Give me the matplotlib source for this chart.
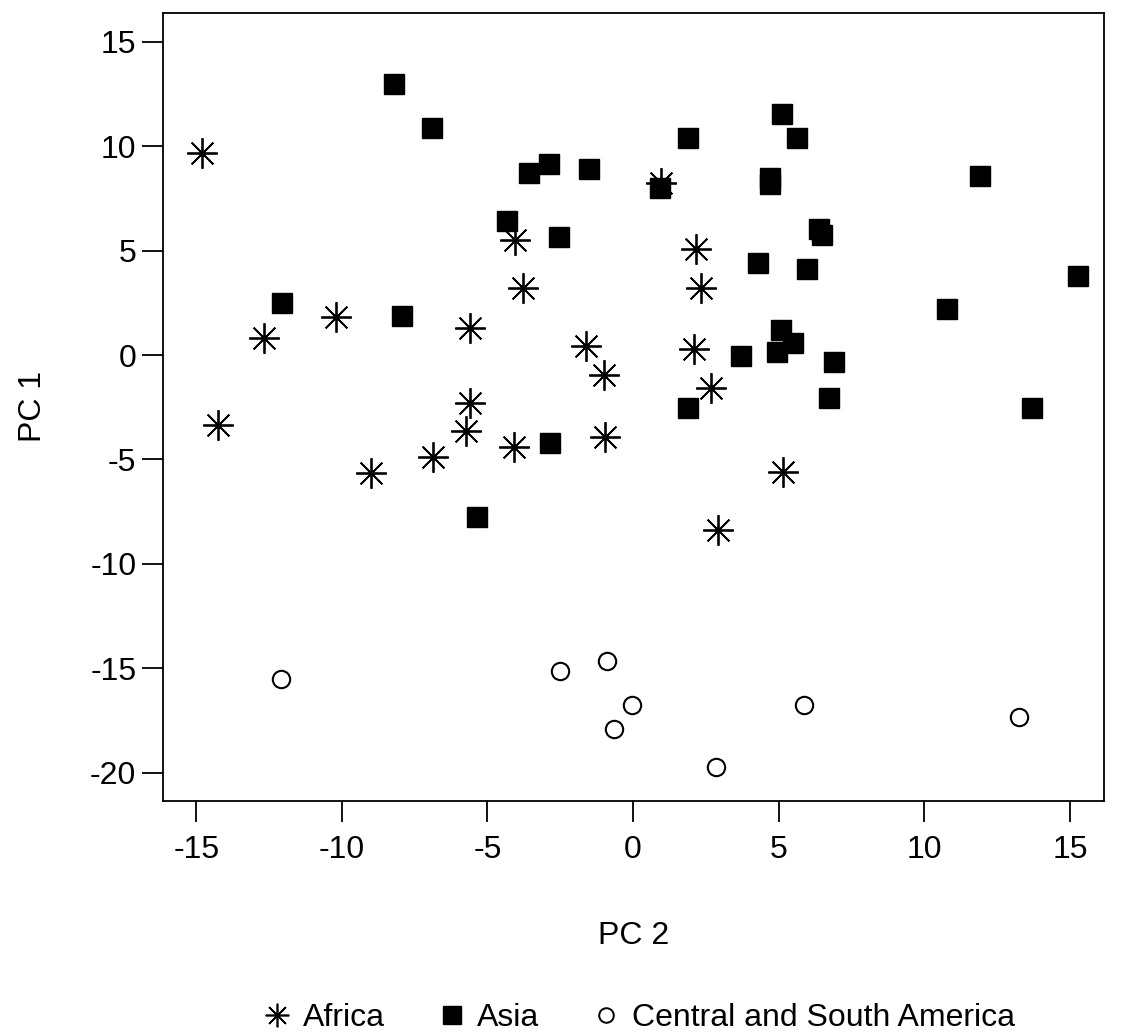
import matplotlib
matplotlib.use("Agg")
import matplotlib.pyplot as plt

# PCA scores (PC 2 on x, PC 1 on y)
africa_pc2 = [-14.79, -14.24, -12.66, -10.19, -8.99, -6.86, -5.73, -5.59, -5.59, -4.05, -3.77,
              -4.08, -1.61, -0.99, -0.96, 0.96, 2.17, 2.34, 2.10, 2.68, 2.92, 5.14]
africa_pc1 = [9.67, -3.35, 0.81, 1.82, -5.65, -4.88, -3.64, -2.30, 1.29, 5.50, 3.21,
              -4.40, 0.43, -0.96, -3.92, 8.23, 5.07, 3.21, 0.29, -1.58, -8.37, -5.60]

asia_pc2 = [-8.20, -6.89, -12.04, -7.92, -3.57, -2.88, -1.51, -4.32, -2.54, 0.93, 5.12,
            1.89, 5.63, 4.70, 4.70, 6.39, 6.49, 4.29, 5.97, 11.91, 15.28, 10.78,
            5.09, 5.50, 4.95, 3.71, 6.90, 6.73, 1.89, 13.70, -2.84, -5.35]
asia_pc1 = [12.97, 10.86, 2.49, 1.87, 8.71, 9.14, 8.90, 6.41, 5.65, 7.99, 11.53,
            10.38, 10.38, 8.47, 8.18, 6.03, 5.74, 4.40, 4.11, 8.56, 3.78, 2.20,
            1.20, 0.57, 0.14, -0.05, -0.33, -2.06, -2.54, -2.54, -4.21, -7.75]

america_pc2 = [-12.09, -2.50, -0.91, -0.02, -0.64, 2.84, 5.86, 13.25]
america_pc1 = [-15.50, -15.11, -14.63, -16.75, -17.89, -19.70, -16.75, -17.31]

x_ticks = [-15, -10, -5, 0, 5, 10, 15]
y_ticks = [-20, -15, -10, -5, 0, 5, 10, 15]

plt.rcParams['font.family'] = ['Liberation Sans', 'DejaVu Sans']
plt.rcParams['axes.unicode_minus'] = False
FS = 23

fig = plt.figure(figsize=(11.34, 10.36), dpi=100)
ax = fig.add_axes([0.1435, 0.2271, 0.8300, 0.7606])

asterisk = (8, 2, 0)
ax.plot(africa_pc2, africa_pc1, linestyle='none', marker=asterisk, markersize=22,
        markeredgewidth=1.3, color='black', label='Africa')
ax.plot(asia_pc2, asia_pc1, linestyle='none', marker='s', markersize=14,
        color='black', label='Asia')
ax.plot(america_pc2, america_pc1, linestyle='none', marker='o', markersize=12.5,
        markerfacecolor='white', markeredgecolor='black', markeredgewidth=1.5,
        label='Central and South America')

ax.set_xlim(-16.15, 16.17)
ax.set_ylim(-21.33, 16.38)
ax.set_xticks(x_ticks)
ax.set_yticks(y_ticks)
ax.tick_params(axis='both', length=15, width=1.3, labelsize=FS)
ax.tick_params(axis='x', pad=10)
ax.tick_params(axis='y', pad=4)
for s in ax.spines.values():
    s.set_linewidth(1.3)

ax.set_xlabel('PC 2', fontsize=FS, labelpad=40)
ax.set_ylabel('PC 1', fontsize=FS, labelpad=30)

# horizontal legend at the bottom, no frame
leg_handles = [
    plt.Line2D([], [], linestyle='none', marker=asterisk, markersize=17, markeredgewidth=1.2, color='black'),
    plt.Line2D([], [], linestyle='none', marker='s', markersize=13, color='black'),
    plt.Line2D([], [], linestyle='none', marker='o', markersize=10.5, markerfacecolor='white',
               markeredgecolor='black', markeredgewidth=1.4),
]
fig.legend(leg_handles, ['Africa', 'Asia', 'Central and South America'], loc='center',
           bbox_to_anchor=(0.564, 0.017), ncol=3, frameon=False, fontsize=FS,
           handlelength=0.8, handletextpad=0.4, columnspacing=1.7)

fig.savefig('out.png', dpi=100, facecolor='white')
